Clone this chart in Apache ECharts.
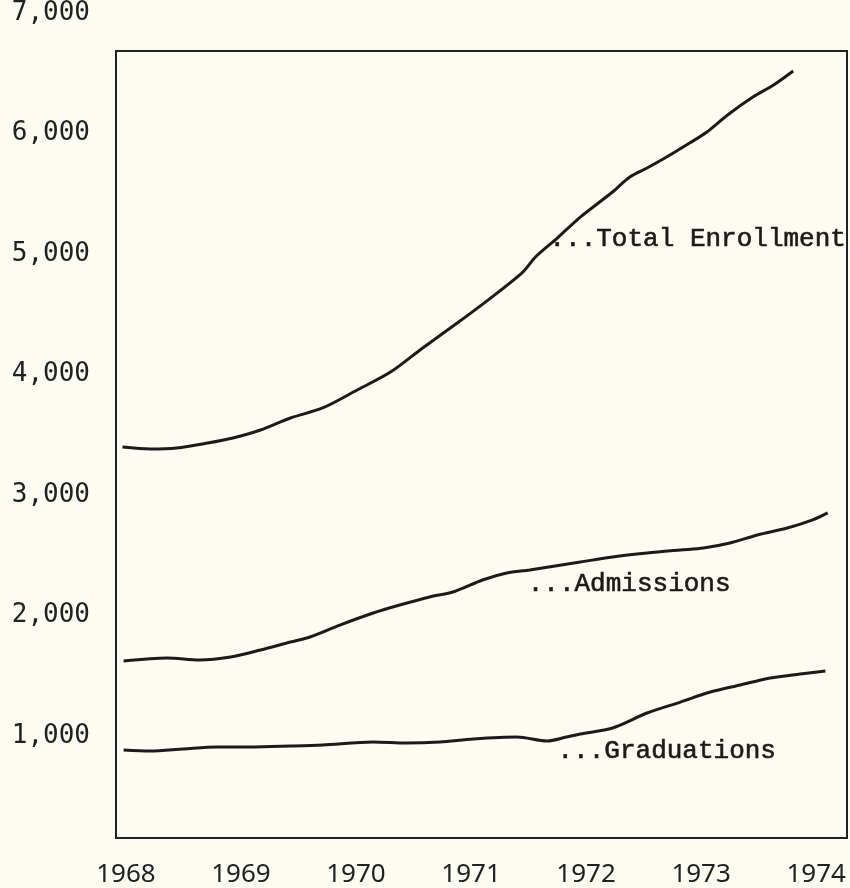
<!DOCTYPE html>
<html>
<head>
<meta charset="utf-8">
<title>Total Enrollment, Admissions and Graduations, 1968-1974</title>
<script src="https://cdn.jsdelivr.net/npm/echarts@6/dist/echarts.min.js"></script>
<style>
  html, body { margin: 0; padding: 0; background: #fcfcf3; }
  #chart { width: 850px; height: 888px; }
</style>
</head>
<body>
<div id="chart"></div>
<script>
// values: [year, persons]
const totalEnrollment = [
  [1967.97, 3399], [1968.21, 3383], [1968.44, 3391], [1968.71, 3432], [1968.93, 3474],
  [1969.17, 3540], [1969.43, 3640], [1969.71, 3723], [1970.01, 3872], [1970.30, 4021],
  [1970.58, 4221], [1970.88, 4428], [1971.17, 4635], [1971.45, 4851], [1971.56, 4976],
  [1971.75, 5133], [1971.95, 5307], [1972.23, 5515], [1972.38, 5639], [1972.53, 5714],
  [1972.70, 5805], [1972.90, 5921], [1973.05, 6013], [1973.23, 6154], [1973.45, 6303],
  [1973.63, 6403], [1973.80, 6519]
]
const admissions = [
  [1967.98, 1624], [1968.36, 1649], [1968.64, 1632], [1968.91, 1657], [1969.17, 1715],
  [1969.43, 1781], [1969.60, 1823], [1969.86, 1922], [1970.15, 2022], [1970.38, 2088],
  [1970.64, 2155], [1970.84, 2196], [1971.10, 2296], [1971.31, 2354], [1971.51, 2379],
  [1971.95, 2445], [1972.23, 2487], [1972.53, 2520], [1972.82, 2545], [1973.02, 2561],
  [1973.25, 2603], [1973.49, 2669], [1973.75, 2727], [1973.97, 2794], [1974.10, 2852]
]
const graduations = [
  [1967.98, 885], [1968.21, 877], [1968.50, 894], [1968.79, 910], [1969.08, 910],
  [1969.43, 918], [1969.71, 927], [1970.15, 952], [1970.44, 943], [1970.73, 952],
  [1971.02, 977], [1971.40, 993], [1971.66, 960], [1971.83, 993], [1971.95, 1018],
  [1972.23, 1068], [1972.53, 1192], [1972.82, 1283], [1973.08, 1366], [1973.34, 1425],
  [1973.60, 1483], [1973.86, 1516], [1974.08, 1541]
]

const years = [1968, 1969, 1970, 1971, 1972, 1973, 1974]
const yTickValues = [1000, 2000, 3000, 4000, 5000, 6000, 7000]
const yTickLabels = ['1,000', '2,000', '3,000', '4,000', '5,000', '6,000', '7,000']

const ink = '#1d1a17'
// typewriter look: thin mono face with a hair of outline to thicken the strokes
const labelFont = {
  fontFamily: 'Liberation Mono', fontSize: 26, color: ink,
  textBorderColor: ink, textBorderWidth: 0.6
}

// typed series names sit next to a point of their line
function seriesNote(data, idx, text, offset) {
  return {
    symbol: 'circle',
    symbolSize: 0,
    silent: true,
    data: [{
      coord: data[idx],
      label: Object.assign({
        show: true, formatter: text, position: 'right', distance: 0, offset: offset
      }, labelFont)
    }]
  }
}

function lineSeries(name, data, note) {
  return {
    name: name,
    type: 'line',
    xAxisIndex: 0,
    yAxisIndex: 0,
    data: data,
    smooth: 0.3,
    symbol: 'none',
    lineStyle: { color: ink, width: 3 },
    markPoint: note
  }
}

const chart = echarts.init(document.getElementById('chart'))

chart.setOption({
  backgroundColor: '#fcfcf3',
  animation: false,
  grid: [
    // plot box
    { left: 116, right: 3, top: 51, bottom: 50, show: true, borderColor: '#222', borderWidth: 2,
      outerBoundsMode: 'none' },
    // taller grid on the same scale, carries the value labels (7,000 sits above the box)
    { left: 116, right: 3, top: 13, bottom: 31.3, outerBoundsMode: 'none' }
  ],
  xAxis: [
    {
      type: 'value', gridIndex: 0, min: 1967.914, max: 1974.268,
      splitLine: { show: false }, axisLine: { show: false }, axisTick: { show: false },
      axisLabel: {
        customValues: years, margin: 24,
        fontFamily: 'Noto Sans', fontSize: 26, color: '#222',
        formatter: v => String(Math.round(v))
      }
    },
    {
      type: 'value', gridIndex: 1, min: 1967.914, max: 1974.268, show: false
    }
  ],
  yAxis: [
    {
      type: 'value', gridIndex: 0, min: 155, max: 6685,
      splitLine: { show: false }, axisLine: { show: false }, axisTick: { show: false },
      axisLabel: { show: false }
    },
    {
      type: 'value', gridIndex: 1, min: 0, max: 7000,
      splitLine: { show: false }, axisLine: { show: false }, axisTick: { show: false },
      axisLabel: {
        customValues: yTickValues, margin: 26,
        fontFamily: 'DejaVu Sans Mono', fontSize: 26, color: '#222',
        formatter: v => yTickLabels[yTickValues.indexOf(v)]
      }
    }
  ],
  series: [
    lineSeries('Total Enrollment', totalEnrollment,
      seriesNote(totalEnrollment, 14, '...Total Enrollment', [14, -18])),
    lineSeries('Admissions', admissions,
      seriesNote(admissions, 14, '...Admissions', [-2, 14])),
    lineSeries('Graduations', graduations,
      seriesNote(graduations, 13, '...Graduations', [-9, 14]))
  ]
})

window.addEventListener('resize', () => chart.resize())
</script>
</body>
</html>
